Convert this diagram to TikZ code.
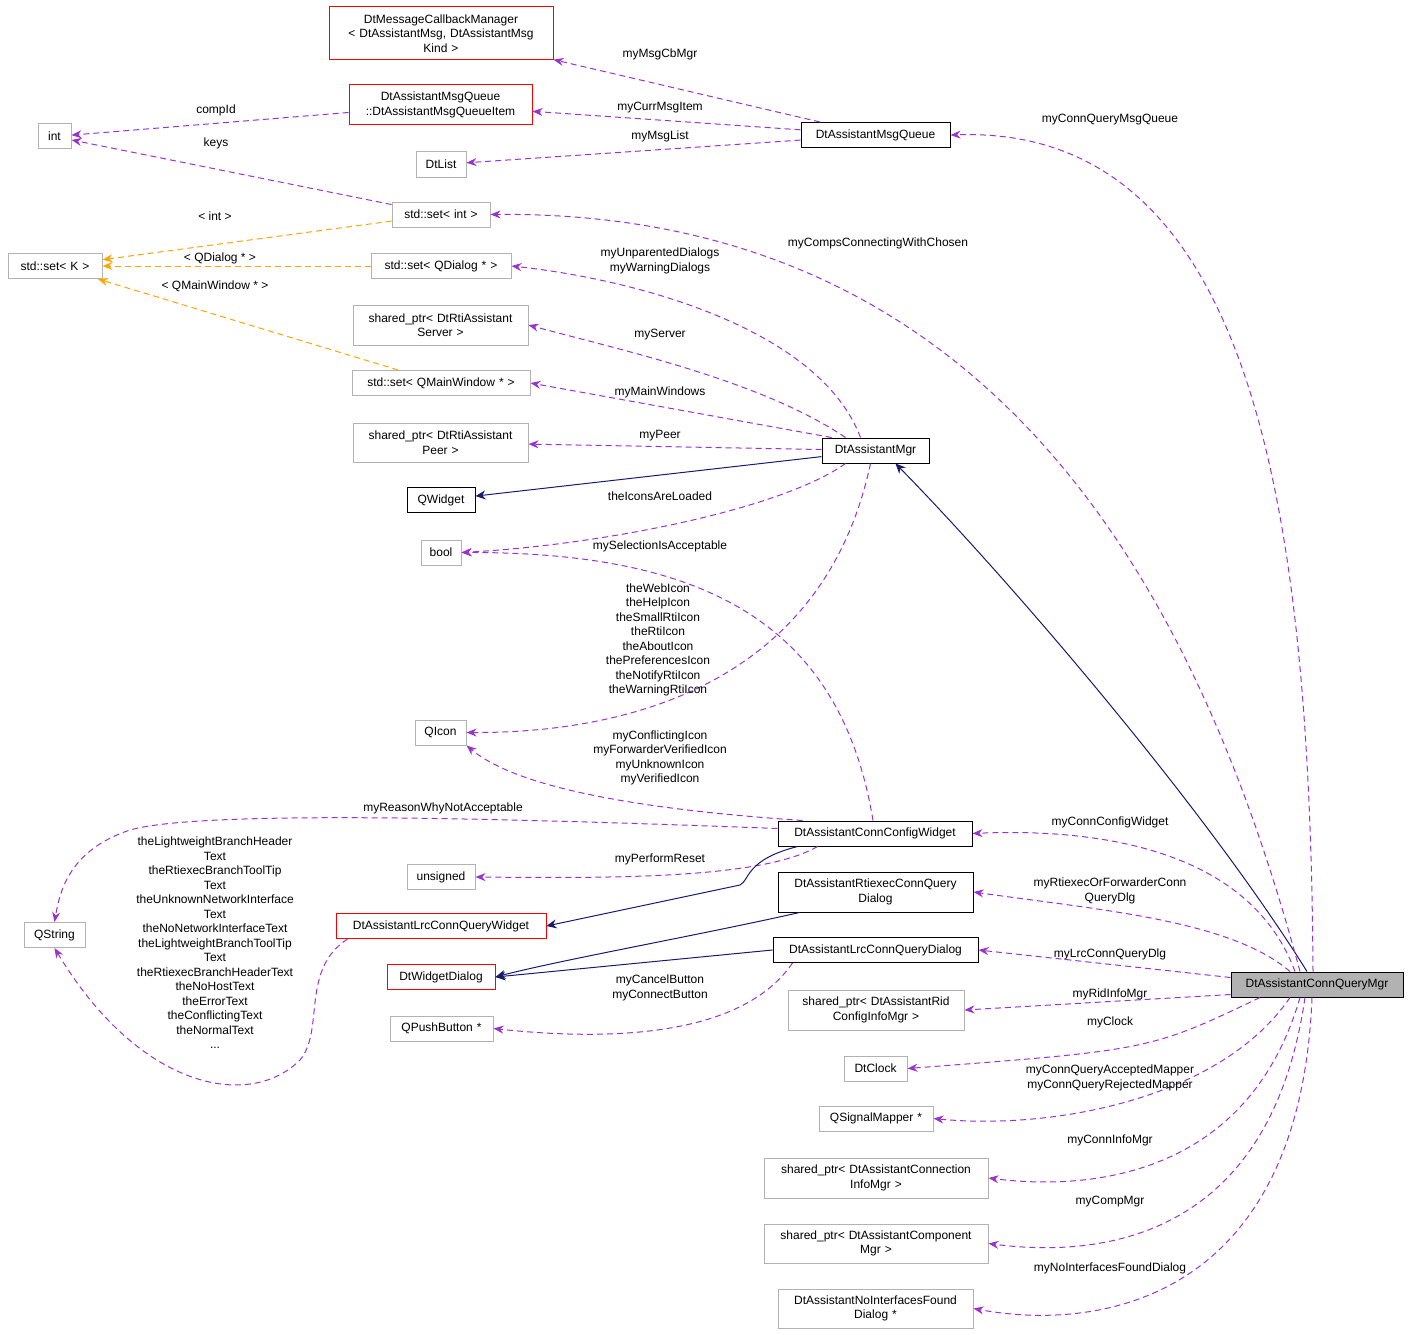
\documentclass[tikz,border=0pt]{standalone}
\usepackage{fontspec}
\setmainfont{Liberation Sans}
\usetikzlibrary{arrows.meta,calc}
\definecolor{pur}{HTML}{9A32CD}
\definecolor{org}{HTML}{FFA500}
\definecolor{nav}{HTML}{191970}
\begin{document}
\begin{tikzpicture}[x=1pt,y=-1pt,line width=1pt,
 every node/.style={font=\fontsize{12}{14.5}\selectfont,inner sep=1pt,align=center},
 b/.style={draw=gray!60,minimum height=25,text width=#1-6,inner sep=0pt},
 bk/.style={b=#1,draw=black},
 rd/.style={b=#1,draw=red},
 e/.style={pur,dashed,dash pattern=on 6pt off 4pt,-{Stealth[length=10pt,width=8pt]}},
 o/.style={org,dashed,dash pattern=on 6pt off 4pt,-{Stealth[length=10pt,width=8pt]}},
 n/.style={nav,-{Stealth[length=10pt,width=9pt]}},
 l/.style={font=\fontsize{12}{14.5}\selectfont,inner sep=0pt}]
\useasboundingbox (0,0) rectangle (1411,1335);
\node[rd=230,minimum height=53] (cbm) at (441,33.5) {DtMessageCallbackManager\\< DtAssistantMsg, DtAssistantMsg\\Kind >};
\node[rd=189,minimum height=40] (mqi) at (440.5,105) {DtAssistantMsgQueue\\::DtAssistantMsgQueueItem};
\node[b=39] (int) at (54.5,136.5) {int};
\node[b=56] (dtlist) at (441,164.5) {DtList};
\node[bk=155] (mq) at (875.5,135) {DtAssistantMsgQueue};
\node[b=104] (setint) at (441,214.5) {std::set< int >};
\node[b=100] (setk) at (55,266) {std::set< K >};
\node[b=146] (setqd) at (441,266) {std::set< QDialog * >};
\node[b=181,minimum height=40] (server) at (440.5,325) {shared\_ptr< DtRtiAssistant\\Server >};
\node[b=184] (setmw) at (441,383) {std::set< QMainWindow * >};
\node[b=181,minimum height=39] (peer) at (440.5,442.5) {shared\_ptr< DtRtiAssistant\\Peer >};
\node[bk=113] (mgr) at (875.5,450.5) {DtAssistantMgr};
\node[bk=74] (qwidget) at (441,500) {QWidget};
\node[b=46] (bool) at (441,552.5) {bool};
\node[b=57] (qicon) at (440.5,732.5) {QIcon};
\node[bk=200] (ccw) at (875,833.5) {DtAssistantConnConfigWidget};
\node[b=74] (unsigned) at (441,877) {unsigned};
\node[bk=201,minimum height=40] (rtiexec) at (875.5,892) {DtAssistantRtiexecConnQuery\\Dialog};
\node[rd=216] (lrcw) at (441,926) {DtAssistantLrcConnQueryWidget};
\node[b=67] (qstring) at (54.5,935) {QString};
\node[bk=211] (lrcd) at (875.5,950) {DtAssistantLrcConnQueryDialog};
\node[rd=114] (wd) at (441,977) {DtWidgetDialog};
\node[bk=178,fill=gray!60] (cqm) at (1317,984.5) {DtAssistantConnQueryMgr};
\node[b=182,minimum height=40] (rid) at (876,1010) {shared\_ptr< DtAssistantRid\\ConfigInfoMgr >};
\node[b=109] (qpb) at (441.5,1028.5) {QPushButton *};
\node[b=69] (clock) at (875.5,1068.5) {DtClock};
\node[b=120] (qsm) at (876,1118.5) {QSignalMapper *};
\node[b=230,minimum height=40] (conninfo) at (876,1178) {shared\_ptr< DtAssistantConnection\\InfoMgr >};
\node[b=230,minimum height=39] (compmgr) at (876,1243.5) {shared\_ptr< DtAssistantComponent\\Mgr >};
\node[b=201,minimum height=39] (noif) at (875.5,1308.5) {DtAssistantNoInterfacesFound\\Dialog *};
% edges
\draw[e] (mq) -- (cbm);
\draw[e] (mq) -- (mqi);
\draw[e] (mq) -- (dtlist);
\draw[e] (mqi) -- (int);
\draw[e] (setint) -- (int);
\draw[o] (setint) -- (setk);
\draw[o] (setqd) -- (setk);
\draw[o] (setmw) -- (setk);
\draw[e] ($(mgr.north)+(-15,0)$) .. controls (820,330) and (640,280) .. (setqd.east);
\draw[e] ($(mgr.north)+(-30,0)$) .. controls (760,380) and (620,350) .. (server.east);
\draw[e] ($(mgr.north west)+(10,0)$) -- (setmw.east);
\draw[e] (mgr) -- (peer);
\draw[n] (mgr) -- (qwidget);
\draw[e] ($(mgr.south)+(-30,0)$) .. controls (780,510) and (600,545) .. (bool.east);
\draw[e] ($(mgr.south)+(-5,0)$) .. controls (820,700) and (600,733) .. (qicon.east);
\draw[e] ($(ccw.north)+(-2,0)$) .. controls (840,620) and (700,552) .. (bool.east);
\draw[e] ($(ccw.north west)+(25,0)$) .. controls (650,810) and (520,790) .. (qicon.south east);
\draw[e] ($(ccw.west)+(0,-5)$) .. controls (500,818) and (200,810) .. (130,830) .. controls (70,850) and (60,890) .. (qstring.north);
\draw[e] ($(ccw.south west)+(40,0)$) .. controls (760,880) and (600,878) .. (unsigned.east);
\draw[n] ($(ccw.south west)+(20,0)$) .. controls (745,860) and (750,880) .. (740,885) -- (lrcw.east);
\draw[n] ($(rtiexec.south west)+(22,0)$) .. controls (700,935) and (560,960) .. (wd.east);
\draw[n] (lrcd.west) -- (wd.east);
\draw[e] ($(lrcd.south west)+(20,0)$) .. controls (740,1040) and (600,1040) .. (qpb.east);
\draw[e] ($(lrcw.south west)+(12,0)$) .. controls (300,970) and (325,1030) .. (300,1060) .. controls (250,1110) and (140,1090) .. (qstring.south);
\draw[n] ($(cqm.north)+(-10,0)$) .. controls (1200,800) and (1000,570) .. ($(mgr.south)+(20,0)$);
\draw[e] ($(cqm.north)+(-4,0)$) .. controls (1310,500) and (1250,125) .. (mq.east);
\draw[e] ($(cqm.north)+(-17,0)$) .. controls (1200,600) and (1000,210) .. (setint.east);
\draw[e] ($(cqm.north)+(-22,0)$) .. controls (1250,850) and (1100,828) .. (ccw.east);
\draw[e] ($(cqm.north)+(-27,0)$) .. controls (1230,920) and (1100,910) .. (rtiexec.east);
\draw[e] ($(cqm.west)+(0,-7)$) -- (lrcd.east);
\draw[e] ($(cqm.west)+(0,10)$) -- (rid.east);
\draw[e] ($(cqm.south)+(-57,0)$) .. controls (1150,1050) .. (clock.east);
\draw[e] ($(cqm.south)+(-27,0)$) .. controls (1220,1100) and (1050,1130) .. (qsm.east);
\draw[e] ($(cqm.south)+(-17,0)$) .. controls (1250,1170) and (1100,1192) .. (conninfo.east);
\draw[e] ($(cqm.south)+(-12,0)$) .. controls (1270,1240) and (1100,1258) .. (compmgr.east);
\draw[e] ($(cqm.south)+(-5,0)$) .. controls (1300,1300) and (1100,1332) .. (noif.east);
% labels
\node[l] at (660,54) {myMsgCbMgr};
\node[l] at (660,108) {myCurrMsgItem};
\node[l] at (660,136) {myMsgList};
\node[l] at (216,110) {compId};
\node[l] at (216,143) {keys};
\node[l] at (215,216) {< int >};
\node[l] at (220,258) {< QDialog * >};
\node[l] at (215,286) {< QMainWindow * >};
\node[l] at (660,261) {myUnparentedDialogs\\myWarningDialogs};
\node[l] at (660,335) {myServer};
\node[l] at (660,392) {myMainWindows};
\node[l] at (660,436) {myPeer};
\node[l] at (660,496) {theIconsAreLoaded};
\node[l] at (660,546) {mySelectionIsAcceptable};
\node[l] at (658,640) {theWebIcon\\theHelpIcon\\theSmallRtiIcon\\theRtiIcon\\theAboutIcon\\thePreferencesIcon\\theNotifyRtiIcon\\theWarningRtiIcon};
\node[l] at (660,758) {myConflictingIcon\\myForwarderVerifiedIcon\\myUnknownIcon\\myVerifiedIcon};
\node[l] at (443,808) {myReasonWhyNotAcceptable};
\node[l] at (660,859) {myPerformReset};
\node[l] at (660,988) {myCancelButton\\myConnectButton};
\node[l] at (215,943) {theLightweightBranchHeader\\Text\\theRtiexecBranchToolTip\\Text\\theUnknownNetworkInterface\\Text\\theNoNetworkInterfaceText\\theLightweightBranchToolTip\\Text\\theRtiexecBranchHeaderText\\theNoHostText\\theErrorText\\theConflictingText\\theNormalText\\...};
\node[l] at (1110,120) {myConnQueryMsgQueue};
\node[l] at (878,243) {myCompsConnectingWithChosen};
\node[l] at (1110,822) {myConnConfigWidget};
\node[l] at (1110,891) {myRtiexecOrForwarderConn\\QueryDlg};
\node[l] at (1110,954) {myLrcConnQueryDlg};
\node[l] at (1110,994) {myRidInfoMgr};
\node[l] at (1110,1022) {myClock};
\node[l] at (1110,1078) {myConnQueryAcceptedMapper\\myConnQueryRejectedMapper};
\node[l] at (1110,1140) {myConnInfoMgr};
\node[l] at (1110,1202) {myCompMgr};
\node[l] at (1110,1268) {myNoInterfacesFoundDialog};
\end{tikzpicture}
\end{document}
